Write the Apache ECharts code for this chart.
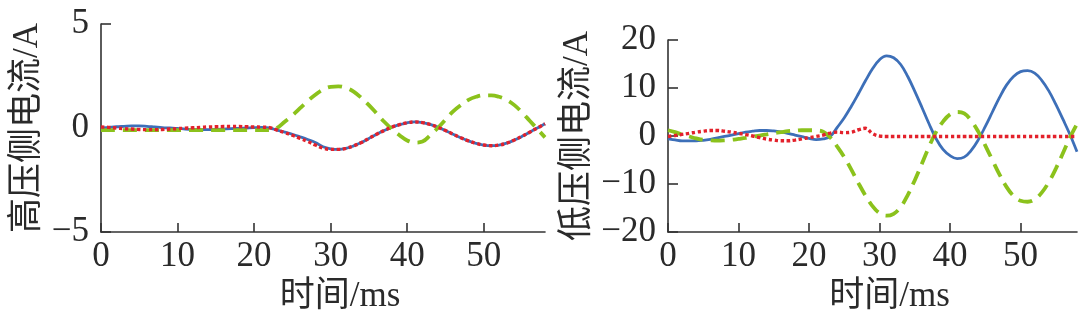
<!DOCTYPE html>
<html>
<head>
<meta charset="utf-8">
<script src="https://cdn.jsdelivr.net/npm/echarts@6/dist/echarts.min.js"></script>
<style>
html,body{margin:0;padding:0;background:#fff;}
#c{width:1080px;height:324px;}
</style>
</head>
<body>
<div id="c"></div>
<script>
// time axis (ms)
const time = [0,1,2,3,4,5,6,7,8,9,10,11,12,13,14,15,16,17,18,19,20,21,22,23,24,25,26,27,28,29,
  30,31,32,33,34,35,36,37,38,39,40,41,42,43,44,45,46,47,48,49,50,51,52,53,54,55,56,57,58];

// High-voltage side current (A)
const hvBlue = [0.0,0.03,0.06,0.08,0.1,0.1,0.08,0.05,0.02,0.0,-0.02,-0.05,-0.07,-0.08,-0.08,-0.07,-0.05,-0.03,-0.02,0.0,0.02,0.03,0.0,
  -0.1,-0.2,-0.3,-0.42,-0.55,-0.7,-0.9,-1.0,-1.03,-0.98,-0.86,-0.7,-0.5,-0.3,-0.12,0.04,0.16,0.25,0.29,0.26,0.17,0.04,
  -0.12,-0.3,-0.47,-0.62,-0.74,-0.82,-0.85,-0.82,-0.73,-0.58,-0.4,-0.2,0.0,0.2];
const hvGreen = [-0.1,-0.1,-0.1,-0.1,-0.1,-0.1,-0.1,-0.1,-0.1,-0.1,-0.1,-0.1,-0.1,-0.1,-0.1,-0.1,-0.1,-0.1,-0.1,-0.1,-0.1,-0.1,-0.1,
  0.0,0.3,0.6,0.95,1.3,1.6,1.85,1.98,2.0,1.93,1.75,1.45,1.1,0.7,0.3,-0.05,-0.35,-0.6,-0.7,-0.65,-0.35,0.0,
  0.4,0.8,1.1,1.35,1.5,1.57,1.57,1.5,1.35,1.1,0.75,0.35,-0.05,-0.45];
const hvRed = [0.05,0.03,0.0,-0.03,-0.05,-0.07,-0.08,-0.08,-0.07,-0.05,-0.03,-0.01,0.01,0.03,0.05,0.06,0.07,0.07,0.07,0.06,0.05,0.04,0.02,
  -0.1,-0.22,-0.35,-0.5,-0.65,-0.82,-0.97,-1.03,-1.03,-0.98,-0.86,-0.7,-0.5,-0.3,-0.12,0.04,0.16,0.25,0.29,0.26,0.17,0.04,
  -0.12,-0.3,-0.47,-0.62,-0.74,-0.82,-0.85,-0.82,-0.73,-0.58,-0.4,-0.2,0.0,0.2];

// Low-voltage side current (A)
const lvBlue = [-0.6,-0.8,-1.0,-1.0,-1.0,-0.9,-0.7,-0.4,-0.1,0.2,0.5,0.8,1.0,1.15,1.15,1.05,0.85,0.55,0.2,-0.15,-0.5,-0.75,-0.6,
  -0.1,1.8,3.8,6.2,8.8,11.5,14.0,15.9,16.7,16.3,14.9,12.4,9.3,6.0,2.6,-0.5,-2.8,-4.1,-4.7,-4.4,-3.0,-0.8,
  2.0,5.0,8.0,10.6,12.4,13.4,13.6,13.1,11.6,9.4,6.6,3.5,0.3,-3.3];
const lvGreen = [1.2,0.8,0.3,-0.1,-0.5,-0.8,-0.9,-0.95,-0.9,-0.8,-0.6,-0.4,-0.15,0.1,0.35,0.6,0.8,1.0,1.1,1.2,1.2,1.15,0.9,
  -0.3,-2.2,-4.4,-7.0,-9.8,-12.4,-14.6,-16.1,-16.6,-16.2,-14.8,-12.3,-9.2,-5.8,-2.3,0.8,3.0,4.5,5.0,4.7,3.2,0.9,
  -2.0,-5.0,-8.0,-10.6,-12.5,-13.5,-13.7,-13.2,-11.8,-9.6,-6.8,-3.6,-0.3,2.5];
const lvRed = [-0.1,0.1,0.35,0.55,0.8,1.0,1.15,1.15,1.0,0.8,0.55,0.3,0.0,-0.35,-0.65,-0.85,-1.0,-1.0,-0.85,-0.6,-0.35,-0.1,0.2,
  0.6,0.8,0.7,0.8,1.3,1.6,0.5,0.0,-0.1,-0.1,-0.1,-0.1,-0.1,-0.1,-0.1,-0.1,-0.1,-0.1,-0.1,-0.1,-0.1,-0.1,
  -0.1,-0.1,-0.1,-0.1,-0.1,-0.1,-0.1,-0.1,-0.1,-0.1,-0.1,-0.1,-0.1,-0.1];

const xTitle = '时间/ms';
const yTitles = ['高压侧电流/A', '低压侧电流/A'];

const FONT = '"Liberation Serif","Times New Roman","Noto Sans CJK SC",serif';
const TXT = '#2a2a2a';
const AX = '#333333';
const BLUE = '#3d6fb8', GREEN = '#8bc21c', RED = '#e3212b';

function pairs(v){ return time.map((t,i)=>[t, v[i]]); }
const minusFmt = v => String(v).replace('-', '\u2212');

function xAxis(gi){
  return {
    type:'value', gridIndex:gi, min:0, max:58, interval:10,
    name:xTitle, nameLocation:'middle', nameGap:46,
    nameTextStyle:{fontFamily:FONT, fontSize:35, color:TXT, padding:[0,0,0,34]},
    axisLine:{show:true, onZero:false, lineStyle:{color:AX, width:1.6}},
    axisTick:{show:true, inside:true, length:9, lineStyle:{color:AX, width:1.6}},
    axisLabel:{fontFamily:FONT, fontSize:35, color:TXT, margin:7, showMaxLabel:false, formatter:minusFmt},
    splitLine:{show:false}
  };
}
function yAxis(gi, mn, mx, iv, gap){
  return {
    type:'value', gridIndex:gi, min:mn, max:mx, interval:iv,
    name:yTitles[gi], nameLocation:'middle', nameGap:gap,
    nameTextStyle:{fontFamily:FONT, fontSize:35, color:TXT},
    axisLine:{show:true, onZero:false, lineStyle:{color:AX, width:1.6}},
    axisTick:{show:true, inside:true, length:10, lineStyle:{color:AX, width:1.6}},
    axisLabel:{fontFamily:FONT, fontSize:35, color:TXT, margin:12, formatter:minusFmt},
    splitLine:{show:false}
  };
}
function line(gi, data, color, width, type, z){
  return {
    type:'line', xAxisIndex:gi, yAxisIndex:gi, data:pairs(data), smooth:0.4,
    showSymbol:false, symbol:'none', z:z, animation:false,
    lineStyle:{color:color, width:width, type:type, cap:'butt'}
  };
}

const chart = echarts.init(document.getElementById('c'), null, {renderer:'canvas'});
chart.setOption({
  animation:false,
  backgroundColor:'#ffffff',
  grid:[
    {left:101, top:24, width:444, height:208},
    {left:668, top:40, width:409, height:192}
  ],
  xAxis:[xAxis(0), xAxis(1)],
  yAxis:[yAxis(0,-5,5,5,56), yAxis(1,-20,20,10,73)],
  series:[
    line(0, hvBlue, BLUE, 2.8, 'solid', 2),
    line(0, hvGreen, GREEN, 3.8, [14,8], 3),
    line(0, hvRed, RED, 3.4, [3.4,2.6], 4),
    line(1, lvBlue, BLUE, 2.8, 'solid', 2),
    line(1, lvGreen, GREEN, 3.8, [14,8], 3),
    line(1, lvRed, RED, 3.4, [3.4,2.6], 4)
  ]
});
</script>
</body>
</html>
